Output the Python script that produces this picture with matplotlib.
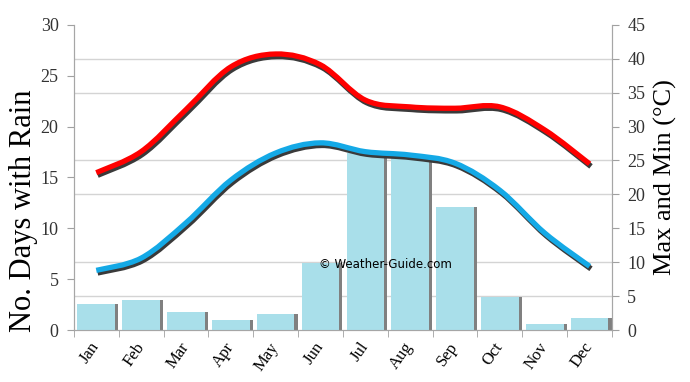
import numpy as np
import matplotlib.pyplot as plt
import matplotlib.patheffects as pe
from matplotlib.path import Path
from matplotlib.patches import PathPatch
from matplotlib.ticker import MultipleLocator, FixedLocator

months = ['Jan', 'Feb', 'Mar', 'Apr', 'May', 'Jun',
          'Jul', 'Aug', 'Sep', 'Oct', 'Nov', 'Dec']
rain_days = [2.55, 2.95, 1.75, 0.95, 1.6, 6.6, 17.4, 17.2, 12.1, 3.25, 0.6, 1.2]
t_max = [23.2, 26.3, 32.5, 38.8, 40.7, 39.1, 33.9, 32.9, 32.7, 32.9, 29.5, 24.5]
t_min = [8.8, 10.6, 15.8, 22.1, 26.1, 27.6, 26.3, 25.8, 24.6, 20.6, 14.3, 9.4]


def smooth_path(xs, ys, k=1 / 6):
    # Catmull-Rom style bezier through the points (drawing only)
    xs = np.asarray(xs, float)
    ys = np.asarray(ys, float)
    verts = [(xs[0], ys[0])]
    codes = [Path.MOVETO]
    n = len(xs)
    for i in range(n - 1):
        x0, y0 = (xs[i - 1], ys[i - 1]) if i > 0 else (xs[i], ys[i])
        x3, y3 = (xs[i + 2], ys[i + 2]) if i < n - 2 else (xs[i + 1], ys[i + 1])
        c1 = (xs[i] + (xs[i + 1] - x0) * k, ys[i] + (ys[i + 1] - y0) * k)
        c2 = (xs[i + 1] - (x3 - xs[i]) * k, ys[i + 1] - (y3 - ys[i]) * k)
        verts += [c1, c2, (xs[i + 1], ys[i + 1])]
        codes += [Path.CURVE4] * 3
    return Path(verts, codes)


fig = plt.figure(figsize=(6.9, 3.82), dpi=100)
ax = fig.add_axes([0.107, 0.136, 0.78, 0.799])
ax2 = ax.twinx()

x = np.arange(len(months))
serif = 'Liberation Serif'

# bars with a grey drop shadow on the right
ax.bar(x + 0.07, rain_days, width=0.84, color='#808080', zorder=2)
ax.bar(x, rain_days, width=0.84, color='#a9dfea', zorder=3)

ax.set_xlim(-0.5, 11.5)
ax.set_ylim(0, 30)
ax.set_yticks(np.arange(0, 31, 5))
ax.yaxis.set_minor_locator(MultipleLocator(30 / 9))
ax.grid(which='minor', axis='y', color='#d4d4d4', linewidth=1)
ax.set_axisbelow(True)
ax.tick_params(axis='y', which='minor', length=0)
ax.tick_params(axis='y', which='major', length=5, color='#a0a0a0',
               labelsize=13, labelcolor='#333333', pad=6)

ax.set_xticks(x)
ax.set_xticklabels(months, rotation=55, fontsize=12, family=serif,
                   rotation_mode='anchor', ha='right', va='center')
ax.xaxis.set_minor_locator(FixedLocator(np.arange(-0.5, 12, 1)))
ax.tick_params(axis='x', which='major', length=0, pad=10)
ax.tick_params(axis='x', which='minor', length=5, color='#a0a0a0')
for lab in ax.get_yticklabels():
    lab.set_family(serif)

for sp in ['top']:
    ax.spines[sp].set_visible(False)
    ax2.spines[sp].set_visible(False)
for a in (ax, ax2):
    for sp in ['left', 'right', 'bottom']:
        a.spines[sp].set_color('#a6a6a6')

ax2.set_ylim(0, 45)
ax2.set_yticks(np.arange(0, 46, 5))
ax2.tick_params(axis='y', length=5, color='#a0a0a0',
                labelsize=13, labelcolor='#333333', pad=6)
for lab in ax2.get_yticklabels():
    lab.set_family(serif)

# smooth temperature curves with shadow
for vals, col in [(t_max, '#ff0000'), (t_min, '#14a9e6')]:
    patch = PathPatch(smooth_path(x, vals), fill=False, edgecolor=col,
                      linewidth=3.8, capstyle='butt', zorder=5)
    patch.set_path_effects([
        pe.Stroke(offset=(1.0, -1.8), linewidth=4.0, foreground='#3a3a3a'),
        pe.Normal()])
    ax2.add_patch(patch)

ax.set_ylabel('No. Days with Rain', fontsize=22, family=serif)
ax.yaxis.set_label_coords(-0.067, 0.39)
ax2.set_ylabel('Max and Min (°C)', fontsize=19, family=serif, labelpad=6)

ax.text(0.455, 0.203, '© Weather-Guide.com', transform=ax.transAxes,
        fontsize=8.5, family='DejaVu Sans', color='black', zorder=6)

fig.savefig('out.png', dpi=100)
